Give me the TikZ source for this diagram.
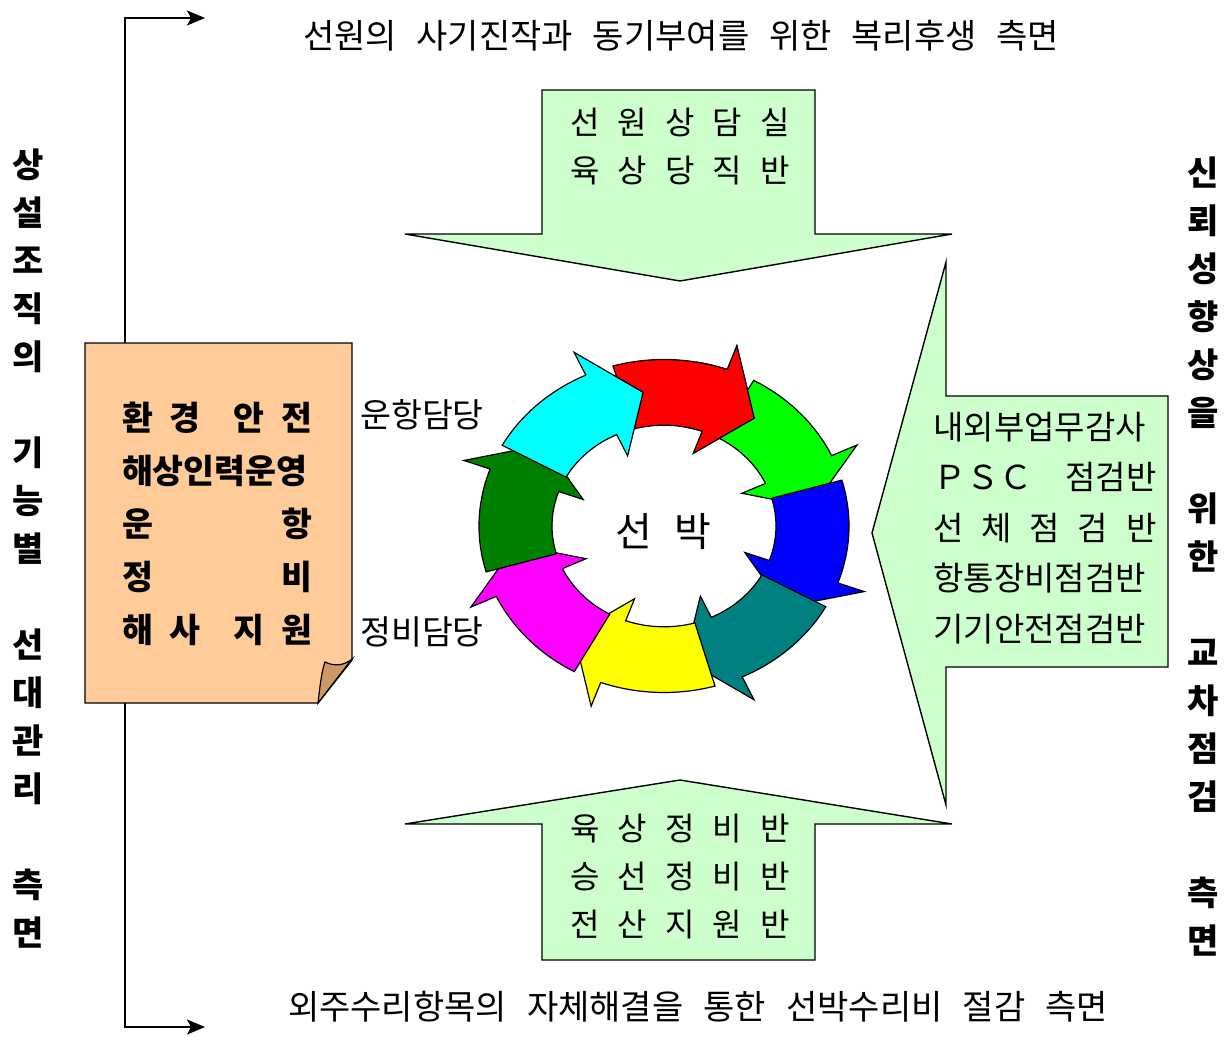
\documentclass[tikz,border=0pt]{standalone}
\usepackage{fontspec}
\usepackage{tikz}
\usetikzlibrary{arrows.meta}
\newfontfamily\kr{Noto Sans CJK KR}
\definecolor{shPage}{HTML}{FFCC99}
\definecolor{shFold}{HTML}{CC9966}
\definecolor{shMint}{HTML}{CCFFCC}
\definecolor{shRed}{HTML}{FF0000}
\definecolor{shGreen}{HTML}{00FF00}
\definecolor{shBlue}{HTML}{0000FF}
\definecolor{shTeal}{HTML}{008080}
\definecolor{shYellow}{HTML}{FFFF00}
\definecolor{shMagenta}{HTML}{FF00FF}
\definecolor{shDkGreen}{HTML}{008000}
\definecolor{shCyan}{HTML}{00FFFF}
\newcommand{\spreadrow}[2]{\makebox[#1][s]{#2}}

\begin{document}
\begin{tikzpicture}[
  x=0.5pt,y=-0.5pt,
  every node/.style={font=\kr,inner sep=0pt},
  block/.style={draw=black,line width=0.7pt,fill=shMint},
  ring/.style={draw=black,line width=0.6pt},
  sidelabel/.style={font=\kr\bfseries\fontsize{17pt}{24pt}\selectfont,align=center},
  caption/.style={font=\kr\fontsize{17pt}{20pt}\selectfont},
  blocktext/.style={font=\kr\fontsize{16pt}{24pt}\selectfont,align=center},
  flow/.style={{Stealth[length=9pt,width=7.5pt,inset=2pt]}-{Stealth[length=9pt,width=7.5pt,inset=2pt]},line width=0.7pt}
]
  \useasboundingbox (0,0) rectangle (1231,1037);

  % outer bracket on the left
  \coordinate (topend) at (205,18);
  \coordinate (botend) at (205,1027);
  \coordinate (spine) at (125,526);
  \draw[flow] (topend) -| (spine) |- (botend);

  % green block arrows
  \draw[block] (542,90) -- (815,90) -- (815,234) -- (952,234) -- (680,281)
    -- (405,234) -- (542,234) -- cycle;
  \draw[block] (542,960) -- (815,960) -- (815,824) -- (952,824) -- (680,780)
    -- (405,824) -- (542,824) -- cycle;
  \draw[block] (1168,396) -- (1168,667) -- (946,667) -- (946,805) -- (872,533)
    -- (946,262) -- (946,396) -- cycle;

  % folded page
  \draw[line width=0.7pt,fill=shPage] (85,343) -- (352,343) -- (352,660)
    -- (318,703) -- (85,703) -- cycle;
  \draw[line width=0.6pt,fill=shFold] (318,703) .. controls (320,685) and (322,670) .. (325,662)
    .. controls (335,667) and (345,665) .. (352,659) -- cycle;

  % ring of arrows
  \begin{scope}[shift={(664,526)},yscale=-0.9]
    \foreach \col/\tip in {shRed/53,shGreen/8,shBlue/-37,shTeal/-82,
        shYellow/-127,shMagenta/-172,shDkGreen/-217,shCyan/-262}{
      \pgfmathsetmacro\tail{\tip+53}
      \pgfmathsetmacro\base{\tip+17}
      \draw[ring,fill=\col] (\tail:185) arc[start angle=\tail,end angle=\base,radius=185]
        -- (\base:213) -- (\tip:150) -- (\base:86) -- (\base:112)
        arc[start angle=\base,end angle=\tail,radius=112] -- cycle;
    }
    \begin{scope}
      \clip (0,0) -- (45:400) -- (80:400) -- cycle;
      \draw[ring,fill=shRed] (106:185) arc[start angle=106,end angle=70,radius=185]
        -- (70:213) -- (53:150) -- (70:86) -- (70:112)
        arc[start angle=70,end angle=106,radius=112] -- cycle;
    \end{scope}
  \end{scope}

  % texts
  \node[font=\kr\fontsize{20pt}{24pt}\selectfont] (ship) at (663,532) {\spreadrow{48pt}{선 박}};
  \node[sidelabel] (leftside) at (28,549)
    {상\\설\\조\\직\\의\\[24pt]기\\능\\별\\[24pt]선\\대\\관\\리\\[24pt]측\\면};
  \node[sidelabel] (rightside) at (1203,557)
    {신\\뢰\\성\\향\\상\\을\\[24pt]위\\한\\[24pt]교\\차\\점\\검\\[24pt]측\\면};
  \node[caption] (welfare) at (681,36)
    {\spreadrow{378pt}{선원의 사기진작과 동기부여를 위한 복리후생 측면}};
  \node[caption] (repair) at (698,1007)
    {\spreadrow{410pt}{외주수리항목의 자체해결을 통한 선박수리비 절감 측면}};

  \node[blocktext] (crew) at (680,147)
    {\spreadrow{110pt}{선 원 상 담 실}\\\spreadrow{110pt}{육 상 당 직 반}};
  \node[blocktext] (shore) at (680,877)
    {\spreadrow{110pt}{육 상 정 비 반}\\\spreadrow{110pt}{승 선 정 비 반}\\\spreadrow{110pt}{전 산 지 원 반}};
  \node[blocktext,font=\kr\fontsize{16.5pt}{25.25pt}\selectfont] (audit) at (1045,528)
    {\spreadrow{111.5pt}{내외부업무감사}\\\spreadrow{111.5pt}{ＰＳＣ　점검반}\\
     \spreadrow{111.5pt}{선 체 점 검 반}\\\spreadrow{111.5pt}{항통장비점검반}\\
     \spreadrow{111.5pt}{기기안전점검반}};
  \node[blocktext,font=\kr\bfseries\fontsize{16.8pt}{26.5pt}\selectfont] (duties) at (217,524)
    {\spreadrow{95pt}{환 경~~안 전}\\\spreadrow{95pt}{해상인력운영}\\
     \spreadrow{95pt}{운 항}\\\spreadrow{95pt}{정 비}\\\spreadrow{95pt}{해 사~~지 원}};
  \node[font=\kr\fontsize{16.8pt}{20pt}\selectfont] (opsduty) at (422,415) {운항담당};
  \node[font=\kr\fontsize{16.8pt}{20pt}\selectfont] (maintduty) at (422,632) {정비담당};
\end{tikzpicture}
\end{document}
